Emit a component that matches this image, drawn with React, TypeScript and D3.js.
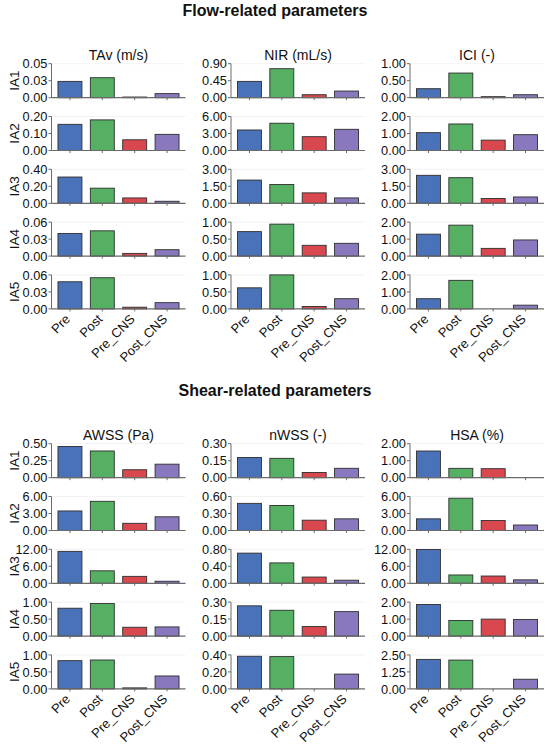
import React from "react";
import * as d3 from "d3";

const categories = ["Pre", "Post", "Pre_CNS", "Post_CNS"];
const rowLabels = ["IA1", "IA2", "IA3", "IA4", "IA5"];
const colors = ["#4a72b8", "#55b063", "#d9484f", "#8a78be"];

const sectionTitles = ["Flow-related parameters", "Shear-related parameters"];
const flowTitles = ["TAv (m/s)", "NIR (mL/s)", "ICI (-)"];
const shearTitles = ["AWSS (Pa)", "nWSS (-)", "HSA (%)"];

// values per row (IA1..IA5), per category (Pre, Post, Pre_CNS, Post_CNS)
const tavValues = [
  [0.024, 0.0294, 0.001, 0.006],
  [0.154, 0.18, 0.063, 0.095],
  [0.309, 0.178, 0.063, 0.024],
  [0.04, 0.0446, 0.0048, 0.0113],
  [0.0479, 0.055, 0.003, 0.011],
];
const nirValues = [
  [0.432, 0.768, 0.079, 0.176],
  [3.62, 4.81, 2.44, 3.74],
  [2.05, 1.66, 0.92, 0.475],
  [0.72, 0.94, 0.317, 0.376],
  [0.62, 1.0, 0.07, 0.3],
];
const iciValues = [
  [0.265, 0.725, 0.03, 0.088],
  [1.05, 1.56, 0.61, 0.93],
  [2.47, 2.26, 0.42, 0.56],
  [1.29, 1.82, 0.455, 0.95],
  [0.6, 1.68, 0, 0.22],
];
const awssValues = [
  [0.459, 0.393, 0.117, 0.199],
  [3.45, 5.15, 1.27, 2.42],
  [11.27, 4.41, 2.45, 0.73],
  [0.82, 0.96, 0.26, 0.27],
  [0.83, 0.85, 0.03, 0.38],
];
const nwssValues = [
  [0.178, 0.171, 0.046, 0.083],
  [0.479, 0.442, 0.182, 0.206],
  [0.71, 0.48, 0.147, 0.073],
  [0.267, 0.228, 0.084, 0.216],
  [0.384, 0.38, 0, 0.174],
];
const hsaValues = [
  [1.57, 0.55, 0.53, 0],
  [2.06, 5.7, 1.76, 0.97],
  [11.95, 2.94, 2.57, 1.22],
  [1.86, 0.92, 1.0, 0.98],
  [2.17, 2.12, 0, 0.71],
];

// axis maxima per row
const tavMax = [0.05, 0.2, 0.4, 0.06, 0.06];
const nirMax = [0.9, 6, 3, 1, 1];
const iciMax = [1, 2, 3, 2, 2];
const awssMax = [0.5, 6, 12, 1, 1];
const nwssMax = [0.3, 0.6, 0.8, 0.3, 0.4];
const hsaMax = [2, 6, 12, 2, 2.5];

const sections = [
  { title: sectionTitles[0], cols: [
    { title: flowTitles[0], values: tavValues, max: tavMax },
    { title: flowTitles[1], values: nirValues, max: nirMax },
    { title: flowTitles[2], values: iciValues, max: iciMax },
  ] },
  { title: sectionTitles[1], cols: [
    { title: shearTitles[0], values: awssValues, max: awssMax },
    { title: shearTitles[1], values: nwssValues, max: nwssMax },
    { title: shearTitles[2], values: hsaValues, max: hsaMax },
  ] },
];

const W = 550;
const H = 745;
const FONT = "'Liberation Sans', Arial, Helvetica, sans-serif";
const colX = [51.5, 231, 410];
const panelW = 134;
const panelH = 34;
const rowTop0 = 63.7;
const rowStep = 52.8;
const sectionShift = 380;
const fmt = d3.format(".2f");
const axisColor = "#6a6a6a";

function Panel({ x, y, values, max, showX }: { x: number; y: number; values: number[]; max: number; showX: boolean }) {
  const xs = d3.scaleBand<string>().domain(categories).range([x, x + panelW]).paddingInner(0.26).paddingOuter(0.2);
  const ys = d3.scaleLinear().domain([0, max]).range([y + panelH, y]);
  const ticks = [0, max / 2, max];
  return (
    <g>
      <line x1={x + panelW} x2={x} y1={ys(max)} y2={ys(max)} stroke="#efefef" strokeWidth={0.8} />
      {categories.map((c, i) => (
        <rect key={c} x={xs(c)} y={ys(values[i])} width={xs.bandwidth()} height={ys(0) - ys(values[i])}
          fill={colors[i]} stroke="#2e2e2e" strokeWidth={0.9} />
      ))}
      <line x1={x} x2={x} y1={ys(max)} y2={ys(0)} stroke={axisColor} strokeWidth={1} />
      {ticks.map((t, i) => (
        <g key={i}>
          <line x1={x - 3} x2={x} y1={ys(t)} y2={ys(t)} stroke={axisColor} strokeWidth={1} />
          <text x={x - 4} y={ys(t)} dy="0.36em" textAnchor="end" fontSize={12.8} fontFamily={FONT} fill="#111">{fmt(t)}</text>
        </g>
      ))}
      <line x1={x} x2={x + panelW} y1={ys(0)} y2={ys(0)} stroke={axisColor} strokeWidth={1.2} />
      {categories.map((c) => {
        const cx = (xs(c) as number) + xs.bandwidth() / 2;
        return <line key={c} x1={cx} x2={cx} y1={ys(0)} y2={ys(0) + 2.5} stroke={axisColor} strokeWidth={1} />;
      })}
      {showX && categories.map((c) => {
        const cx = (xs(c) as number) + xs.bandwidth() / 2;
        return (
          <text key={c} transform={`translate(${cx + 1},${ys(0) + 11}) rotate(-45)`} textAnchor="end"
            fontSize={13} fontFamily={FONT} fill="#111">{c}</text>
        );
      })}
    </g>
  );
}

export default function App() {
  return (
    <svg width={W} height={H} style={{ position: "absolute", left: 0, top: 0, background: "#fff" }}>
      <rect width={W} height={H} fill="#fff" />
      {sections.map((s, si) => {
        const off = si * sectionShift;
        return (
          <g key={si}>
            <text x={W / 2} y={16 + off} textAnchor="middle" fontSize={16} fontWeight="bold" fontFamily={FONT} fill="#111">{s.title}</text>
            {s.cols.map((col, ci) => (
              <g key={ci}>
                <text x={colX[ci] + panelW / 2} y={60 + off} textAnchor="middle" fontSize={14} fontFamily={FONT} fill="#111">{col.title}</text>
                {rowLabels.map((r, ri) => (
                  <Panel key={r} x={colX[ci]} y={rowTop0 + ri * rowStep + off} values={col.values[ri]} max={col.max[ri]} showX={ri === 4} />
                ))}
              </g>
            ))}
            {rowLabels.map((r, ri) => {
              const cy = rowTop0 + ri * rowStep + off + panelH / 2;
              return (
                <text key={r} transform={`translate(18.5,${cy}) rotate(-90)`} textAnchor="middle" fontSize={13.5} fontFamily={FONT} fill="#111">{r}</text>
              );
            })}
          </g>
        );
      })}
    </svg>
  );
}
